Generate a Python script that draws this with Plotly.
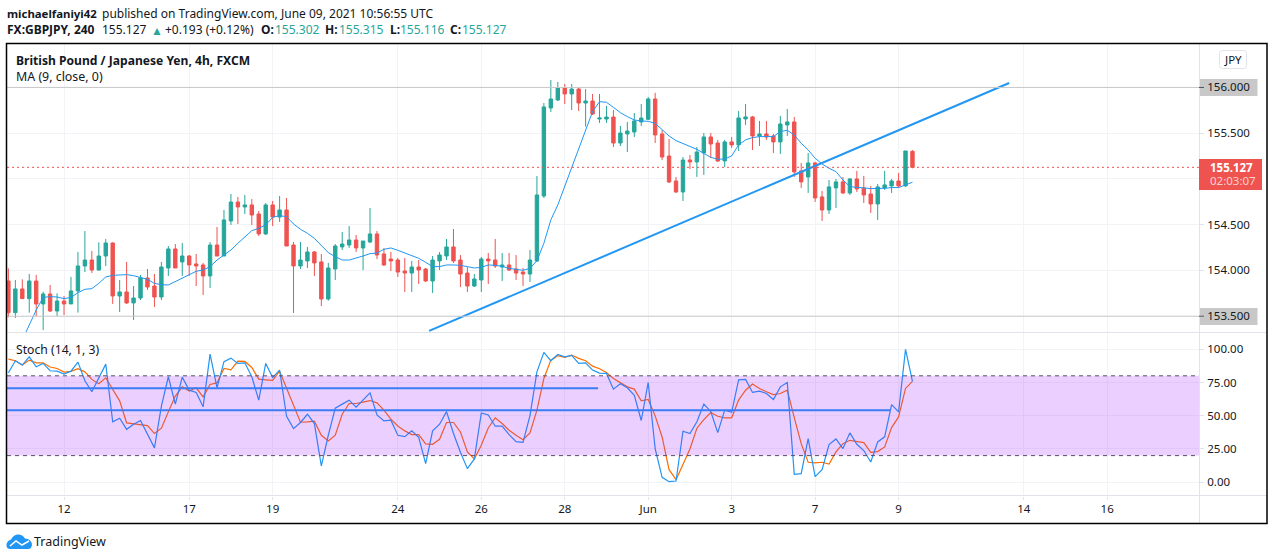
import plotly.graph_objects as go

# prices, bar by bar
opens = [153.885,153.539,153.798,153.692,153.885,153.634,153.743,153.557,153.666,153.634,153.776,154.049,154.114,154.005,154.158,154.300,153.721,153.765,153.645,153.699,153.918,153.830,153.710,154.027,154.235,154.093,154.158,154.071,154.060,153.940,154.278,154.158,154.541,154.748,154.694,154.716,154.617,154.399,154.716,154.584,
 154.661,154.278,154.049,154.104,154.202,154.093,153.688,154.016,154.257,154.278,154.333,154.246,154.311,154.399,154.180,154.125,154.114,153.994,153.972,154.038,154.016,153.885,154.104,154.158,154.257,154.114,153.972,153.830,153.896,154.125,154.114,154.038,154.060,154.016,153.983,153.961,154.104,154.814,155.776,155.863,
 155.994,155.929,155.983,155.830,155.852,155.655,155.655,155.677,155.393,155.492,155.513,155.623,155.652,155.874,155.492,155.251,154.978,154.858,155.207,155.186,155.284,155.459,155.393,155.197,155.405,155.372,155.656,155.678,155.470,155.492,155.470,155.405,155.590,155.623,155.088,155.022,155.175,154.804,154.661,154.902,
 154.968,154.847,155.000,154.902,154.836,154.727,154.902,154.924,154.978,154.924,155.302]
highs = [154.023,153.896,153.903,153.961,153.951,153.768,153.841,153.750,153.721,153.929,154.202,154.431,154.213,154.308,154.344,154.308,153.896,154.093,153.830,153.951,154.016,153.961,154.093,154.267,154.289,154.300,154.169,154.180,154.082,154.311,154.475,154.661,154.836,154.803,154.825,154.781,154.650,154.737,154.759,154.814,
 154.792,154.311,154.311,154.257,154.213,154.180,154.082,154.289,154.421,154.486,154.388,154.322,154.683,154.431,154.246,154.202,154.136,154.136,154.104,154.114,154.027,154.158,154.202,154.344,154.453,154.169,154.038,153.961,154.147,154.191,154.344,154.191,154.191,154.169,154.027,154.224,155.032,155.830,156.082,156.060,
 156.038,156.038,156.005,155.983,155.929,155.929,155.798,155.754,155.579,155.623,155.721,155.819,155.896,155.940,155.535,155.437,155.022,155.240,155.262,155.349,155.502,155.502,155.426,155.427,155.459,155.743,155.820,155.689,155.634,155.634,155.492,155.689,155.765,155.678,155.175,155.284,155.186,154.869,154.989,155.000,
 155.022,155.011,155.088,155.033,154.924,154.946,155.088,155.000,155.066,155.306,155.315]
lows = [153.488,153.481,153.692,153.539,153.495,153.349,153.546,153.502,153.513,153.634,153.539,153.983,153.972,153.998,154.049,153.634,153.546,153.634,153.459,153.677,153.787,153.601,153.677,153.940,154.027,153.940,153.940,153.830,153.732,153.809,154.158,154.158,154.497,154.508,154.617,154.497,154.377,154.388,154.486,154.530,
 154.267,153.535,154.016,154.027,153.940,153.612,153.670,153.896,154.224,154.246,154.202,154.005,154.300,154.125,154.049,153.994,153.929,153.765,153.765,153.852,153.874,153.754,154.005,154.114,154.082,153.819,153.765,153.819,153.765,153.852,154.027,153.885,153.994,153.896,153.830,153.874,154.093,154.792,155.732,155.852,
 155.819,155.754,155.743,155.572,155.699,155.612,155.612,155.349,155.360,155.295,155.459,155.579,155.645,155.393,155.207,154.956,154.847,154.759,155.109,155.022,155.044,155.229,155.186,155.128,155.339,155.306,155.590,155.317,155.361,155.427,155.284,155.274,155.470,155.022,154.902,154.847,154.749,154.541,154.618,154.683,
 154.836,154.825,154.858,154.738,154.629,154.552,154.880,154.847,154.902,154.913,155.116]
closes = [153.539,153.798,153.692,153.885,153.634,153.743,153.557,153.666,153.634,153.776,154.049,154.114,154.005,154.158,154.300,153.721,153.765,153.645,153.699,153.918,153.819,153.710,154.038,154.235,154.027,154.158,154.060,154.049,153.940,154.278,154.158,154.552,154.748,154.694,154.716,154.606,154.399,154.716,154.584,154.661,
 154.267,154.049,154.114,154.202,154.082,153.688,154.027,154.267,154.289,154.333,154.246,154.322,154.399,154.169,154.060,154.104,153.983,153.972,154.038,154.005,153.885,154.114,154.169,154.257,154.104,153.961,153.830,153.907,154.125,154.104,154.049,154.060,154.005,153.972,153.961,154.114,154.825,155.787,155.874,155.994,
 155.929,155.983,155.830,155.852,155.710,155.666,155.677,155.393,155.502,155.524,155.634,155.666,155.874,155.481,155.240,154.967,154.858,155.207,155.186,155.295,155.459,155.382,155.196,155.405,155.372,155.667,155.678,155.470,155.492,155.459,155.405,155.601,155.623,155.077,154.968,155.175,154.793,154.661,154.913,154.968,
 154.847,155.000,154.891,154.825,154.727,154.913,154.935,154.978,154.924,155.306,155.127]
ma_values = [None,None,153.240,153.404,153.568,153.706,153.714,153.710,153.692,153.706,153.757,153.794,153.801,153.859,153.929,153.947,153.954,153.954,153.943,153.925,153.903,153.859,153.845,153.841,153.878,153.910,153.951,153.991,154.005,154.042,154.114,154.169,154.224,154.297,154.369,154.435,154.461,154.497,154.581,154.599,
 154.588,154.508,154.450,154.406,154.351,154.278,154.195,154.151,154.114,154.114,154.133,154.158,154.184,154.191,154.231,154.246,154.220,154.191,154.162,154.133,154.089,154.042,154.042,154.060,154.060,154.056,154.042,154.027,154.034,154.060,154.056,154.045,154.023,154.009,154.002,154.023,154.107,154.297,154.552,154.716,
 154.920,155.124,155.328,155.532,155.736,155.845,155.838,155.783,155.725,155.681,155.645,155.634,155.630,155.608,155.535,155.470,155.419,155.390,155.360,155.324,155.280,155.236,155.215,155.219,155.252,155.372,155.427,155.452,155.463,155.463,155.463,155.518,155.532,155.481,155.390,155.317,155.226,155.164,155.117,155.080,
 154.989,154.916,154.906,154.902,154.895,154.895,154.898,154.906,154.906,154.935,154.964]
stoch_k = [82.3,91.3,88.1,94.3,86.8,89.3,83.8,83.5,81.3,83.5,90.3,76.3,68.0,78.5,88.8,45.4,48.1,39.8,43.6,46.4,36.6,25.8,57.2,79.3,58.7,79.0,69.2,67.5,56.7,96.3,71.0,90.6,93.3,89.3,89.8,79.3,61.7,89.3,78.8,84.3,
 49.6,40.3,44.9,51.1,44.1,12.2,35.3,55.7,58.7,61.7,56.4,61.7,67.2,50.6,46.1,46.6,35.3,34.3,38.6,33.8,13.9,38.6,43.6,53.1,36.6,22.5,10.2,17.5,52.1,50.6,42.1,42.1,35.8,30.5,30.0,50.1,83.0,97.6,91.3,96.1,
 94.3,95.3,89.3,89.8,84.3,82.0,81.8,70.0,74.0,71.0,65.4,46.4,75.0,25.3,3.7,0.4,0.9,38.3,36.6,45.4,58.7,53.2,37.3,54.2,52.6,77.0,77.3,67.5,68.5,66.7,62.2,71.7,75.0,5.9,6.4,32.8,4.2,9.4,28.3,32.5,
 25.3,37.1,28.5,23.8,15.2,30.3,34.1,58.4,52.9,99.9,75.8]
stoch_d = [92.6,91.3,88.1,91.8,89.8,89.8,86.6,85.5,82.8,83.3,85.3,83.0,77.3,74.0,78.5,69.7,61.2,44.6,44.1,43.6,42.6,36.6,40.6,52.9,64.7,71.7,68.5,71.0,64.2,73.5,74.7,85.5,84.5,91.1,90.8,86.3,77.5,77.0,76.5,83.5,
 70.5,57.2,45.1,45.4,45.9,35.3,31.0,35.3,51.1,59.2,59.2,60.2,61.4,59.7,54.2,47.4,42.3,38.6,35.8,35.8,28.8,28.5,32.3,44.9,44.9,37.8,22.8,17.5,27.8,40.8,48.4,44.1,39.1,35.3,32.0,37.1,54.2,78.0,91.8,95.1,
 93.8,95.6,93.1,91.3,87.3,85.3,82.5,78.0,75.0,71.7,70.0,61.2,62.2,49.9,34.0,9.4,1.9,13.5,25.0,40.6,47.1,52.4,49.6,48.4,48.4,61.7,69.2,73.8,70.5,68.0,65.9,66.7,69.2,48.6,29.0,15.0,14.5,15.0,13.7,22.8,
 29.0,31.5,30.5,29.8,22.5,23.0,26.5,41.1,49.1,70.5,75.8]
bars = list(range(len(closes)))

date_ticks = [8, 26, 38, 56, 68, 80, 92, 104, 116, 128, 146, 158]
date_labels = ["12", "17", "19", "24", "26", "28", "Jun", "3", "7", "9", "14", "16"]
price_ticks = [156.0, 155.5, 155.0, 154.5, 154.0, 153.5]
price_labels = ["156.000", "155.500", "", "154.500", "154.000", "153.500"]
stoch_ticks = [100, 75, 50, 25, 0]
stoch_labels = ["100.00", "75.00", "50.00", "25.00", "0.00"]
last_price = 155.127
level_prices = [156.0, 153.5]

# hand drawn lines on the chart
trend_bars = [60.5, 143.9]
trend_prices = [153.339, 156.049]
upper_bars = [-0.2, 84.8]
upper_stoch = [70.7, 70.7]
lower_bars = [-0.2, 126.8]
lower_stoch = [54.1, 54.1]

UP = "#26a69a"
DOWN = "#ef5350"
BLUE = "#2196f3"
GRID = "#f1f3f6"
AXIS = "#e0e3eb"
TEXT = "#131722"
FONT = "Noto Sans"
W, H = 1274, 560

def px(x):
    return x / W

def py(y):
    return 1 - y / H

def pane_line(y, yref, color, dash=None, width=1):
    return dict(type="line", xref="paper", yref=yref, x0=px(7), x1=px(1199), y0=y, y1=y,
                line=dict(color=color, width=width, dash=dash))

def box(x0, y0, x1, y1, fill, layer="below"):
    return dict(type="rect", xref="paper", yref="paper", x0=px(x0), x1=px(x1), y0=py(y0), y1=py(y1),
                fillcolor=fill, line=dict(width=0), layer=layer)

def rounded(x0, y0, x1, y1, r, line):
    p = f"M {px(x0+r)} {py(y0)} L {px(x1-r)} {py(y0)} Q {px(x1)} {py(y0)} {px(x1)} {py(y0+r)} "
    p += f"L {px(x1)} {py(y1-r)} Q {px(x1)} {py(y1)} {px(x1-r)} {py(y1)} L {px(x0+r)} {py(y1)} "
    p += f"Q {px(x0)} {py(y1)} {px(x0)} {py(y1-r)} L {px(x0)} {py(y0+r)} Q {px(x0)} {py(y0)} {px(x0+r)} {py(y0)} Z"
    return dict(type="path", xref="paper", yref="paper", path=p, fillcolor="white", line=dict(color=line, width=1))

def label(x, y, text, size=12, color=TEXT):
    return dict(xref="paper", yref="paper", x=px(x), y=py(y), text=text, showarrow=False, xanchor="left",
                yanchor="middle", align="left", font=dict(family=FONT, size=size, color=color), borderpad=0)

fig = go.Figure()
fig.add_trace(go.Candlestick(x=bars, open=opens, high=highs, low=lows, close=closes, xaxis="x", yaxis="y",
                             increasing=dict(line=dict(color=UP, width=1), fillcolor=UP),
                             decreasing=dict(line=dict(color=DOWN, width=1), fillcolor=DOWN),
                             whiskerwidth=0))
fig.add_trace(go.Scatter(x=bars, y=ma_values, mode="lines", line=dict(color=BLUE, width=1), xaxis="x", yaxis="y"))
fig.add_trace(go.Scatter(x=trend_bars, y=trend_prices, mode="lines", line=dict(color=BLUE, width=2), xaxis="x", yaxis="y"))
fig.add_trace(go.Scatter(x=bars, y=stoch_d, mode="lines", line=dict(color="#ff6d00", width=1.2), xaxis="x", yaxis="y2"))
fig.add_trace(go.Scatter(x=bars, y=stoch_k, mode="lines", line=dict(color=BLUE, width=1.2), xaxis="x", yaxis="y2"))
fig.add_trace(go.Scatter(x=upper_bars, y=upper_stoch, mode="lines", line=dict(color=BLUE, width=2), xaxis="x", yaxis="y2"))
fig.add_trace(go.Scatter(x=lower_bars, y=lower_stoch, mode="lines", line=dict(color=BLUE, width=2), xaxis="x", yaxis="y2"))

shapes = [
    pane_line(level_prices[0], "y", "#c8c8c8"),
    pane_line(level_prices[1], "y", "#c8c8c8"),
    pane_line(last_price, "y", DOWN, dash="2px,3px"),
    dict(type="rect", xref="paper", yref="y2", x0=px(7), x1=px(1199), y0=20, y1=80,
         fillcolor="rgba(153,21,255,0.2)", line=dict(width=0), layer="above"),
    pane_line(80, "y2", "#55505f", dash="4px,4px"),
    pane_line(20, "y2", "#55505f", dash="4px,4px"),
    box(1199, 79, 1257.5, 96, "#c8c8c8"),
    box(1199, 308, 1257.5, 325, "#c8c8c8"),
    dict(type="line", xref="paper", yref="paper", x0=px(7), x1=px(1267), y0=py(332.5), y1=py(332.5), line=dict(color=AXIS, width=1)),
    dict(type="line", xref="paper", yref="paper", x0=px(7), x1=px(1267), y0=py(495.5), y1=py(495.5), line=dict(color=AXIS, width=1)),
    dict(type="line", xref="paper", yref="paper", x0=px(1199.5), x1=px(1199.5), y0=py(44), y1=py(523), line=dict(color=AXIS, width=1)),
    dict(type="line", xref="paper", yref="y", x0=px(1199), x1=px(1204), y0=level_prices[0], y1=level_prices[0], line=dict(color="#50535e", width=1)),
    dict(type="line", xref="paper", yref="y", x0=px(1199), x1=px(1204), y0=level_prices[1], y1=level_prices[1], line=dict(color="#50535e", width=1)),
    rounded(1219.5, 50.5, 1246.5, 68.5, 3, AXIS),
    box(1199, 159, 1262, 190, DOWN, layer="above"),
    dict(type="rect", xref="paper", yref="paper", x0=px(6.5), x1=px(1267), y0=py(523.5), y1=py(43.5), line=dict(color="black", width=1.5)),
]
# TradingView logo
cloud = ("M 6.5 546 Q 6 541 11 539.5 Q 14 534 19 534.5 Q 23 535 25 538.5 Q 31 539 32 544 Q 32 549 28 549 "
         "L 10 549 Q 7 549 6.5 546 Z")
path = []
is_x = True
for tok in cloud.split():
    if tok.isalpha():
        path.append(tok)
        is_x = True
    else:
        path.append(str(px(float(tok))) if is_x else str(py(float(tok))))
        is_x = not is_x
shapes.append(dict(type="path", xref="paper", yref="paper", path=" ".join(path), fillcolor=BLUE, line=dict(width=0)))
shapes.append(dict(type="path", xref="paper", yref="paper", line=dict(color="white", width=1.5),
                   path=f"M {px(10)} {py(546)} L {px(16)} {py(541)} L {px(22)} {py(545)} L {px(29)} {py(541)}"))
fig.update_layout(shapes=shapes)

annotations = [
    label(6, 13, "<b>michaelfaniyi42</b>", size=11.4),
    label(100.5, 13, "published on TradingView.com, June 09, 2021 10:56:55 UTC"),
    label(6, 29.5, "<b>FX:GBPJPY, 240</b>"),
    label(101, 29.5, "155.127"),
    label(149.5, 30, "▲", size=12, color=UP),
    label(163.5, 29.5, "+0.193 (+0.12%)"),
    label(260, 29.5, "<b>O:</b>"),
    label(274, 29.5, "155.302", color=UP),
    label(324.5, 29.5, "<b>H:</b>"),
    label(337.5, 29.5, "155.315", color=UP),
    label(388.5, 29.5, "<b>L:</b>"),
    label(398.5, 29.5, "155.116", color=UP),
    label(448.5, 29.5, "<b>C:</b>"),
    label(461, 29.5, "155.127", color=UP),
    label(14.5, 60.5, "<b>British Pound / Japanese Yen, 4h, FXCM</b>", size=12.1),
    label(14.5, 77, "MA (9, close, 0)", size=12.4),
    label(14.5, 349, "Stoch (14, 1, 3)", size=12.2),
    label(33, 541.5, "TradingView", size=12.5),
    label(1223, 59.5, "JPY", size=11.5),
    label(1209, 167.7, "<b>155.127</b>", size=11.5, color="white"),
    label(1209, 181, "02:03:07", size=11.5, color="#fbd0cf"),
]
fig.update_layout(annotations=annotations)

fig.update_layout(
    width=W, height=H, autosize=False, showlegend=False,
    margin=dict(l=0, r=0, t=0, b=0), paper_bgcolor="white", plot_bgcolor="white",
    font=dict(family=FONT, size=12, color=TEXT),
    xaxis=dict(domain=[px(7), px(1199)], range=[-0.2, 171.2], anchor="y2", rangeslider=dict(visible=False),
               tickmode="array", tickvals=date_ticks, ticktext=date_labels, showgrid=True, gridcolor=GRID,
               ticks="outside", ticklen=3, tickcolor=AXIS, zeroline=False, showline=False,
               tickfont=dict(family=FONT, size=11.5, color=TEXT)),
    yaxis=dict(domain=[py(332.5), py(44)], range=[153.322, 156.475], side="right", anchor="x",
               tickmode="array", tickvals=price_ticks, ticktext=price_labels, showgrid=True, gridcolor=GRID,
               ticks="outside", ticklen=4, tickcolor=AXIS, zeroline=False, showline=False, ticklabelstandoff=1,
               tickfont=dict(family=FONT, size=11.5, color=TEXT)),
    yaxis2=dict(domain=[py(495.5), py(333)], range=[-10.0, 112.2], side="right", anchor="x",
                tickmode="array", tickvals=stoch_ticks, ticktext=stoch_labels, showgrid=True, gridcolor=GRID,
                ticks="outside", ticklen=4, tickcolor=AXIS, zeroline=False, showline=False, ticklabelstandoff=1,
                tickfont=dict(family=FONT, size=11.5, color=TEXT)),
)

fig.write_html("out.html", config=dict(displayModeBar=False),
               post_script="document.body.style.margin='0';document.body.style.overflow='hidden';")
